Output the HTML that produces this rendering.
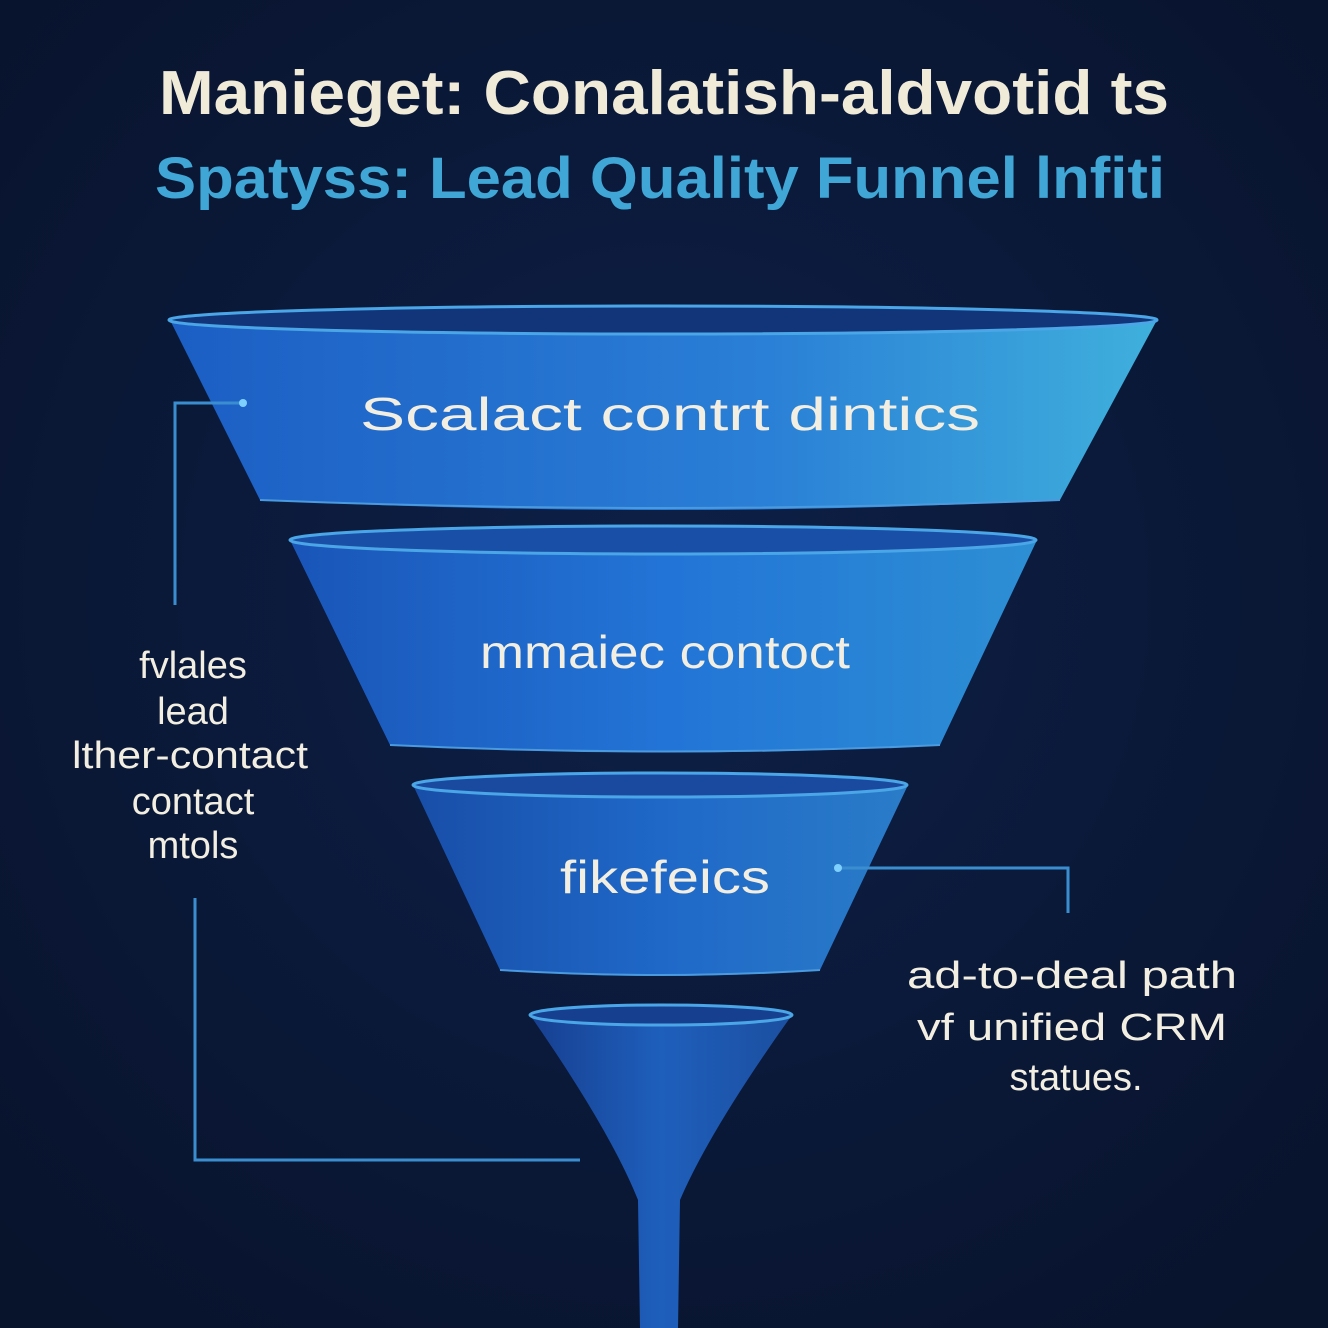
<!DOCTYPE html>
<html><head><meta charset="utf-8"><style>
html,body{margin:0;padding:0;background:#0a1733;}
svg{display:block}
text{font-family:"Liberation Sans",sans-serif;}
</style></head><body>
<svg width="1328" height="1328" viewBox="0 0 1328 1328" xmlns="http://www.w3.org/2000/svg">
<defs>
<radialGradient id="bg" cx="50%" cy="45%" r="70%"><stop offset="0" stop-color="#0e2048"/><stop offset="1" stop-color="#08132c"/></radialGradient>
<linearGradient id="f1" x1="0" y1="0" x2="1" y2="0"><stop offset="0" stop-color="#1c5ec4"/><stop offset="0.6" stop-color="#2a7fd6"/><stop offset="1" stop-color="#3fb0dc"/></linearGradient>
<linearGradient id="f2" x1="0" y1="0" x2="1" y2="0"><stop offset="0" stop-color="#1a55b8"/><stop offset="0.5" stop-color="#2274d6"/><stop offset="1" stop-color="#2d8fd4"/></linearGradient>
<linearGradient id="f3" x1="0" y1="0" x2="1" y2="0"><stop offset="0" stop-color="#184ea8"/><stop offset="0.5" stop-color="#1f68c8"/><stop offset="1" stop-color="#2a7cc8"/></linearGradient>
<linearGradient id="f4" x1="0" y1="0" x2="1" y2="0"><stop offset="0" stop-color="#173f90"/><stop offset="0.5" stop-color="#1e5fbc"/><stop offset="1" stop-color="#1c4fa0"/></linearGradient>
</defs>
<rect width="1328" height="1328" fill="url(#bg)"/>
<text x="664" y="114" text-anchor="middle" font-size="62" font-weight="bold" fill="#f0ead8" textLength="1010" lengthAdjust="spacingAndGlyphs">Manieget: Conalatish-aldvotid ts</text>
<text x="660" y="198" text-anchor="middle" font-size="58" font-weight="bold" fill="#3fa6d6" textLength="1010" lengthAdjust="spacingAndGlyphs">Spatyss: Lead Quality Funnel lnfiti</text>

<!-- band 1 -->
<path d="M170,320 L260,500 Q660,520 1060,500 L1157,320 Z" fill="url(#f1)"/>
<ellipse cx="663" cy="320" rx="494" ry="14" fill="#12357a" stroke="#4aa6e6" stroke-width="3"/>
<path d="M260,500 Q660,516 1060,500" fill="none" stroke="#4a9ae0" stroke-width="2"/>
<!-- band 2 -->
<path d="M290,540 L390,745 Q665,760 940,745 L1037,540 Z" fill="url(#f2)"/>
<ellipse cx="663" cy="540" rx="373" ry="14" fill="#1a4fa8" stroke="#4aa6e6" stroke-width="3"/>
<path d="M390,745 Q665,758 940,745" fill="none" stroke="#4a9ae0" stroke-width="2"/>
<!-- band 3 -->
<path d="M413,785 L500,970 Q660,982 820,970 L908,785 Z" fill="url(#f3)"/>
<ellipse cx="660" cy="785" rx="247" ry="12" fill="#1a4aa0" stroke="#4aa6e6" stroke-width="3"/>
<path d="M500,970 Q660,980 820,970" fill="none" stroke="#4a9ae0" stroke-width="2"/>
<!-- band 4 spout -->
<path d="M530,1015 Q610,1130 638,1200 L640,1328 L678,1328 L680,1200 Q710,1130 792,1015 Z" fill="url(#f4)"/>
<ellipse cx="661" cy="1015" rx="131" ry="10" fill="#163f90" stroke="#4aa6e6" stroke-width="3"/>

<text x="670" y="430" text-anchor="middle" font-size="46" fill="#f2eee2" textLength="620" lengthAdjust="spacingAndGlyphs">Scalact contrt dintics</text>
<text x="665" y="668" text-anchor="middle" font-size="46" fill="#f2eee2" textLength="370" lengthAdjust="spacingAndGlyphs">mmaiec contoct</text>
<text x="665" y="893" text-anchor="middle" font-size="46" fill="#f2eee2" textLength="210" lengthAdjust="spacingAndGlyphs">fikefeics</text>

<!-- connectors -->
<g fill="none" stroke="#3a8ed0" stroke-width="3">
<path d="M243,403 H175 V605"/>
<path d="M195,898 V1160 H580"/>
<path d="M838,868 H1068 V913"/>
</g>
<circle cx="243" cy="403" r="4" fill="#7fd0ff"/>
<circle cx="838" cy="868" r="4" fill="#7fd0ff"/>

<g font-size="38" fill="#f2eee2" text-anchor="middle">
<text x="193" y="678">fvlales</text>
<text x="193" y="724">lead</text>
<text x="190" y="768" textLength="236" lengthAdjust="spacingAndGlyphs">lther-contact</text>
<text x="193" y="814">contact</text>
<text x="193" y="858">mtols</text>
<text x="1072" y="988" textLength="330" lengthAdjust="spacingAndGlyphs">ad-to-deal path</text>
<text x="1072" y="1040" textLength="310" lengthAdjust="spacingAndGlyphs">vf unified CRM</text>
<text x="1076" y="1090">statues.</text>
</g>
</svg>
</body></html>
